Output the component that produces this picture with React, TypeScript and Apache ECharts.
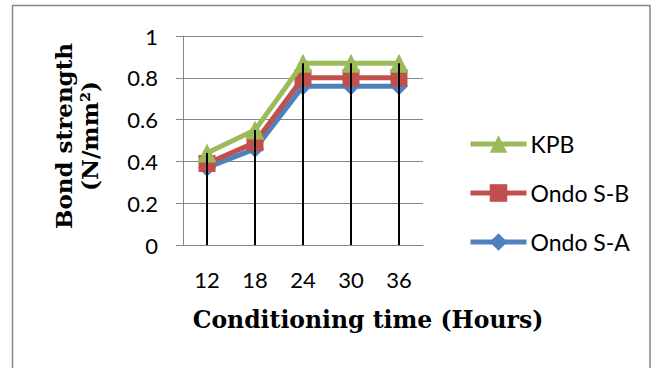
import React, { useEffect, useRef } from "react";
import * as echarts from "echarts";

const categories = ["12", "18", "24", "30", "36"];
const kpb = [0.44, 0.55, 0.87, 0.87, 0.87];
const ondoSB = [0.39, 0.49, 0.8, 0.8, 0.8];
const ondoSA = [0.37, 0.46, 0.76, 0.76, 0.76];
const dropTops = categories.map((_, i) => Math.max(kpb[i], ondoSB[i], ondoSA[i]));

const GRAY = "#868686";
const TICK_FONT = "Lato, 'Open Sans', sans-serif";
const TITLE_FONT = "'DejaVu Serif', serif";

export default function App() {
  const ref = useRef<HTMLDivElement>(null);
  useEffect(() => {
    if (!ref.current) return;
    const chart = echarts.init(ref.current, undefined, { renderer: "svg" });
    chart.setOption({
      animation: false,
      backgroundColor: "#ffffff",
      grid: { left: 183, right: 229, top: 36, bottom: 123, containLabel: false },
      xAxis: {
        type: "category",
        data: categories,
        boundaryGap: true,
        axisLine: { show: true, lineStyle: { color: GRAY, width: 1 } },
        axisTick: { show: false },
        axisLabel: { color: "#000", fontFamily: TICK_FONT, fontSize: 22, margin: 23 },
      },
      yAxis: {
        type: "value",
        min: 0,
        max: 1,
        interval: 0.2,
        axisLine: { show: true, lineStyle: { color: GRAY, width: 1 } },
        axisTick: { show: true, length: 7, inside: false, lineStyle: { color: GRAY } },
        splitLine: { show: true, lineStyle: { color: GRAY, width: 1 } },
        axisLabel: { color: "#000", fontFamily: TICK_FONT, fontSize: 22, margin: 25 },
      },
      legend: {
        orient: "vertical",
        left: 463,
        top: 127,
        itemWidth: 56,
        itemHeight: 22,
        itemGap: 25,
        data: ["KPB", "Ondo S-B", "Ondo S-A"],
        lineStyle: { width: 5 },
        textStyle: {
          color: "#000",
          fontFamily: TICK_FONT,
          fontSize: 23,
          lineHeight: 24,
          padding: [0, 0, 0, -1],
        },
      },
      series: [
        {
          name: "Ondo S-A",
          type: "line",
          data: ondoSA,
          symbol: "diamond",
          symbolSize: 18,
          z: 2,
          lineStyle: { color: "#4F81BD", width: 5 },
          itemStyle: { color: "#4F81BD" },
        },
        {
          name: "Ondo S-B",
          type: "line",
          data: ondoSB,
          symbol: "rect",
          symbolSize: 17,
          z: 3,
          lineStyle: { color: "#C0504D", width: 5 },
          itemStyle: { color: "#C0504D" },
        },
        {
          name: "KPB",
          type: "line",
          data: kpb,
          symbol: "triangle",
          symbolSize: 19,
          z: 4,
          lineStyle: { color: "#9BBB59", width: 5 },
          itemStyle: { color: "#9BBB59" },
        },
        {
          name: "drop",
          type: "bar",
          data: dropTops,
          barWidth: 2,
          z: 10,
          itemStyle: { color: "#000" },
          silent: true,
        },
      ],
      graphic: [
        {
          type: "rect",
          shape: { x: 12.5, y: 5.5, width: 637.5, height: 400 },
          style: { fill: "none", stroke: GRAY, lineWidth: 1.5 },
          z: 100,
        },
        {
          type: "text",
          x: 76.5,
          y: 136,
          rotation: Math.PI / 2,
          style: {
            text: "Bond strength\n(N/mm²)",
            fontFamily: TITLE_FONT,
            fontWeight: "bold",
            fontSize: 23,
            lineHeight: 26,
            fill: "#000",
            align: "center",
            verticalAlign: "middle",
          },
        },
        {
          type: "text",
          x: 368,
          y: 320,
          style: {
            text: "Conditioning time (Hours)",
            fontFamily: TITLE_FONT,
            fontWeight: "bold",
            fontSize: 23.5,
            fill: "#000",
            align: "center",
            verticalAlign: "middle",
          },
        },
      ],
    });
    return () => chart.dispose();
  }, []);
  return (
    <div
      ref={ref}
      style={{ position: "fixed", left: 0, top: 0, width: 652, height: 368, background: "#fff" }}
    />
  );
}
